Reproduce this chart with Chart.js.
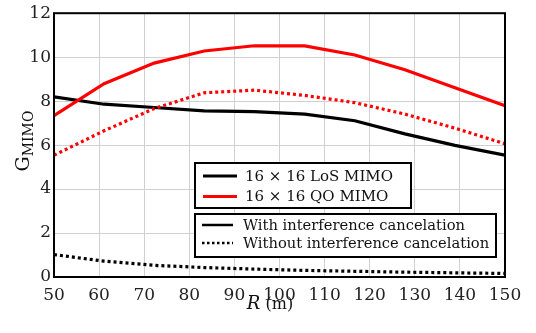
<!DOCTYPE html>
<html>
<head>
    <title>G_MIMO vs R</title>
    <script src="https://cdn.jsdelivr.net/npm/chart.js"></script>
    <style>
        body { margin: 0; background: #fff; }
        #wrap { width: 536px; height: 333px; }
    </style>
</head>
<body>
<div id="wrap"><canvas id="chart"></canvas></div>
<script>
    // distances R (m)
    var rValues = [50, 61.1, 72.2, 83.3, 94.4, 105.6, 116.7, 127.8, 138.9, 150];

    // 16x16 LoS MIMO
    var losWith    = [8.19, 7.86, 7.71, 7.56, 7.52, 7.41, 7.11, 6.51, 5.99, 5.54];
    var losWithout = [1.02, 0.72, 0.53, 0.43, 0.36, 0.30, 0.26, 0.22, 0.19, 0.16];

    // 16x16 QO MIMO
    var qoWith    = [7.34, 8.79, 9.73, 10.28, 10.52, 10.51, 10.10, 9.43, 8.61, 7.79];
    var qoWithout = [5.54, 6.65, 7.66, 8.38, 8.50, 8.26, 7.93, 7.41, 6.77, 6.06];

    var systemLabels = ['16 \u00d7 16 LoS MIMO', '16 \u00d7 16 QO MIMO'];
    var modeLabels = ['With interference cancelation', 'Without interference cancelation'];

    var serif = '"DejaVu Serif", serif';
    var dotted = [3, 3];

    function pts(ys) {
        return rValues.map(function (x, i) { return { x: x, y: ys[i] }; });
    }

    // frame, axis titles and the two legend boxes
    var decor = {
        id: 'decor',
        afterDatasetsDraw: function (chart) {
            var ctx = chart.ctx, a = chart.chartArea;
            ctx.save();
            ctx.strokeStyle = '#000';
            ctx.lineWidth = 2;
            ctx.strokeRect(a.left, a.top, a.right - a.left, a.bottom - a.top);

            // legend 1: systems
            ctx.fillStyle = '#fff';
            ctx.fillRect(195, 163, 216, 45);
            ctx.strokeRect(195, 163, 216, 45);
            var cols = ['#000', '#ff0000'];
            ctx.font = '15px ' + serif;
            ctx.textBaseline = 'middle';
            for (var i = 0; i < 2; i++) {
                var y = 176 + i * 20.5;
                ctx.strokeStyle = cols[i];
                ctx.lineWidth = 3;
                ctx.setLineDash([]);
                ctx.beginPath(); ctx.moveTo(203, y); ctx.lineTo(237, y); ctx.stroke();
                ctx.fillStyle = '#111';
                ctx.fillText(systemLabels[i], 245, y + 1);
            }

            // legend 2: modes
            ctx.strokeStyle = '#000';
            ctx.lineWidth = 2;
            ctx.fillStyle = '#fff';
            ctx.fillRect(195, 214, 301, 43);
            ctx.strokeRect(195, 214, 301, 43);
            ctx.font = '14.7px ' + serif;
            for (var j = 0; j < 2; j++) {
                var yy = 225 + j * 18;
                ctx.strokeStyle = '#000';
                ctx.lineWidth = 2.5;
                ctx.setLineDash(j === 0 ? [] : [2.5, 2.5]);
                ctx.beginPath(); ctx.moveTo(202, yy); ctx.lineTo(233, yy); ctx.stroke();
                ctx.setLineDash([]);
                ctx.fillStyle = '#111';
                ctx.fillText(modeLabels[j], 243, yy + 1);
            }

            // y title  G_MIMO
            ctx.save();
            ctx.translate(22, 141);
            ctx.rotate(-Math.PI / 2);
            ctx.fillStyle = '#111';
            ctx.textBaseline = 'alphabetic';
            ctx.font = '19px ' + serif;
            var gW = ctx.measureText('G').width;
            ctx.font = '14px ' + serif;
            var sW = ctx.measureText('MIMO').width;
            var x0 = -(gW + sW) / 2;
            ctx.font = '19px ' + serif;
            ctx.fillText('G', x0, 7);
            ctx.font = '14px ' + serif;
            ctx.fillText('MIMO', x0 + gW, 11);
            ctx.restore();

            // x title  R (m)
            ctx.textBaseline = 'alphabetic';
            ctx.font = 'italic 18px ' + serif;
            var rW = ctx.measureText('R').width;
            ctx.font = '16px ' + serif;
            var mW = ctx.measureText(' (m)').width;
            var xs = 270 - (rW + mW) / 2;
            ctx.font = 'italic 18px ' + serif;
            ctx.fillText('R', xs, 309);
            ctx.font = '16px ' + serif;
            ctx.fillText(' (m)', xs + rW, 309);
            ctx.restore();
        }
    };

    new Chart(document.getElementById('chart'), {
        type: 'line',
        data: {
            datasets: [
                { label: systemLabels[1] + ', ' + modeLabels[0], data: pts(qoWith),
                  borderColor: '#ff0000', borderWidth: 3.2 },
                { label: systemLabels[1] + ', ' + modeLabels[1], data: pts(qoWithout),
                  borderColor: '#ff0000', borderWidth: 3.2, borderDash: dotted },
                { label: systemLabels[0] + ', ' + modeLabels[0], data: pts(losWith),
                  borderColor: '#000', borderWidth: 3.2 },
                { label: systemLabels[0] + ', ' + modeLabels[1], data: pts(losWithout),
                  borderColor: '#000', borderWidth: 3.2, borderDash: dotted }
            ]
        },
        options: {
            responsive: true,
            maintainAspectRatio: false,
            animation: false,
            devicePixelRatio: 1,
            elements: { point: { radius: 0 }, line: { tension: 0, fill: false, borderCapStyle: 'butt' } },
            layout: { padding: { top: 10, right: 31, left: 0, bottom: 0 } },
            plugins: { legend: { display: false }, tooltip: { enabled: false } },
            scales: {
                x: {
                    type: 'linear', min: 50, max: 150,
                    afterFit: function (s) { s.height = 56; },
                    ticks: { stepSize: 10, color: '#222', font: { family: serif, size: 17 }, padding: 8, maxRotation: 0 },
                    grid: { color: '#d0d0d0', lineWidth: 1, drawTicks: false },
                    border: { display: false }
                },
                y: {
                    min: 0, max: 12,
                    afterFit: function (s) { s.width = 54; },
                    ticks: { stepSize: 2, color: '#222', font: { family: serif, size: 17 }, padding: 3 },
                    grid: { color: '#d0d0d0', lineWidth: 1, drawTicks: false },
                    border: { display: false }
                }
            }
        },
        plugins: [decor]
    });
</script>
</body>
</html>
